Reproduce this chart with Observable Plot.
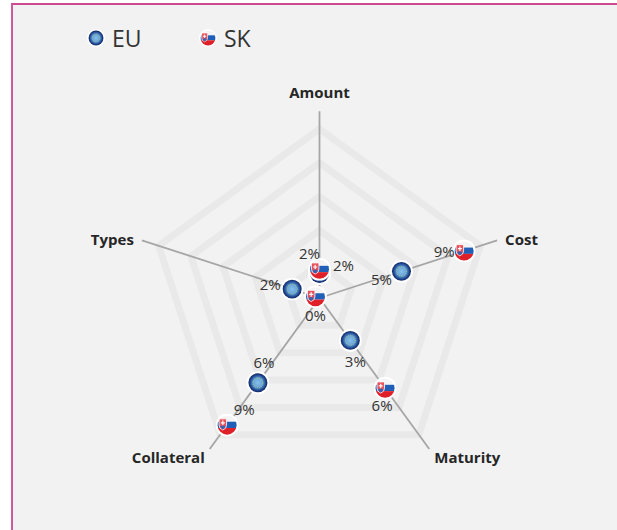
<!DOCTYPE html>
<html>
<head>
<meta charset="utf-8">
<script src="https://cdn.jsdelivr.net/npm/d3@7"></script>
<script src="https://cdn.jsdelivr.net/npm/@observablehq/plot@0.6"></script>
<style>
html,body{margin:0;padding:0;background:#fff;overflow:hidden;width:617px;height:530px}
#frame{position:absolute;left:11px;top:3px;width:604px;height:525px;border-left:2px solid #cc5a9c;border-top:2px solid #cc4c94;background:#f2f2f2;overflow:hidden;font-family:"Open Sans",sans-serif;color:#333}
#legend{position:relative;height:60px}
#legend .item{position:absolute;top:13px;display:flex;align-items:center;font-size:23px;line-height:40px;gap:7px}
#legend img{width:18px;height:18px;display:block}
svg{display:block}
</style>
</head>
<body>
<div id="frame"><div id="legend"></div><div id="chart"></div></div>
<script>
const axes = ["Amount", "Cost", "Maturity", "Collateral", "Types"];
const euValues = [1.45, 5.1, 3.1, 6.2, 1.7];
const skValues = [1.7, 9.0, 6.6, 9.3, 0.25];
const euLabels = ["2%", "5%", "3%", "6%", "2%"];
const skLabels = ["2%", "9%", "6%", "9%", "0%"];
const rings = [2, 4, 6, 8, 10];
const axisMax = 11.05;

const euIcon = "data:image/svg+xml," + encodeURIComponent(`<svg xmlns="http://www.w3.org/2000/svg" viewBox="0 0 40 40"><defs><radialGradient id="g"><stop offset="0" stop-color="#86c0ea"/><stop offset=".45" stop-color="#6aa6d8"/><stop offset=".65" stop-color="#3f75b8"/><stop offset=".85" stop-color="#1c3f88"/><stop offset="1" stop-color="#10265f"/></radialGradient></defs><circle cx="20" cy="20" r="20" fill="#fff"/><circle cx="20" cy="20" r="16.5" fill="url(#g)"/><circle cx="20" cy="20" r="8.5" fill="none" stroke="#a8c890" stroke-width="1.8" stroke-dasharray="1.5 1.7"/></svg>`);
const skIcon = "data:image/svg+xml," + encodeURIComponent(`<svg xmlns="http://www.w3.org/2000/svg" viewBox="0 0 40 40"><defs><clipPath id="c"><circle cx="20" cy="20" r="16.5"/></clipPath></defs><circle cx="20" cy="20" r="20" fill="#fff"/><g clip-path="url(#c)"><rect width="40" height="14" fill="#f4f4f6"/><rect y="14" width="40" height="11" fill="#1f5fb8"/><rect y="25" width="40" height="15" fill="#e02028"/><path d="M6 9h13v11q0 6-6.500 8.500q-6.500-2.500-6.500-8.500z" fill="#e8505a" stroke="#fff" stroke-width="1.4"/><path d="M11.500 12h2v3h2.500v2h-2.500v3h-2v-3h-2.500v-2h2.500z" fill="#fff"/><path d="M8 22q4.500-3 9 0q-1 4-4.500 5.500q-3.500-1.500-4.500-5.500z" fill="#3a62b0"/></g></svg>`);

const legendItems = [["EU", euIcon, 74], ["SK", skIcon, 186]];
for (const [name, src, left] of legendItems) {
  const item = document.createElement("div");
  item.className = "item";
  item.style.left = left + "px";
  const img = document.createElement("img");
  img.src = src;
  const label = document.createElement("span");
  label.textContent = name;
  item.append(img, label);
  document.getElementById("legend").append(item);
}

// polar → cartesian in data units
const px = (i, v) => v * Math.sin(i * 2 * Math.PI / axes.length);
const py = (i, v) => v * Math.cos(i * 2 * Math.PI / axes.length);

const ringRows = rings.flatMap(r => [0, 1, 2, 3, 4, 5].map(k => ({r, x: px(k % 5, r), y: py(k % 5, r)})));
const spokes = axes.map((name, i) => ({name, x: px(i, axisMax), y: py(i, axisMax)}));
const points = series => series.values.map((v, i) => ({x: px(i, v), y: py(i, v), label: series.labels[i]}));
const eu = points({values: euValues, labels: euLabels});
const sk = points({values: skValues, labels: skLabels});

const W = 604, H = 465, unit = 16.9, cx = 306, cy = 232.5;
const axisStyle = [
  {textAnchor: "middle", dx: 0, dy: -18.5},
  {textAnchor: "start", dx: 8, dy: 0},
  {textAnchor: "start", dx: 5, dy: 9},
  {textAnchor: "end", dx: -5, dy: 9},
  {textAnchor: "end", dx: -8, dy: 0}
];
const euOffset = [[24, -7], [-20, 9], [5, 22], [6, -20], [-22, -4]];
const skOffset = [[-10, -15], [-20, 1], [-3, 18], [17, -15], [0, 19]];

const pointMarks = (rows, icon) => [
  Plot.image(rows, {x: "x", y: "y", src: icon, width: 23, height: 23}),
];
const valueText = (rows, offsets) => rows.map((d, i) =>
  Plot.text([d], {x: "x", y: "y", text: "label", dx: offsets[i][0], dy: offsets[i][1], fontSize: 15, fill: "#333"}));

const chart = Plot.plot({
  width: W, height: H,
  margin: 0,
  style: {background: "transparent", fontFamily: '"Open Sans", sans-serif', overflow: "visible"},
  x: {axis: null, domain: [-cx / unit, (W - cx) / unit], range: [0, W]},
  y: {axis: null, domain: [cy / unit, (cy - H) / unit], range: [0, H]},
  marks: [
    Plot.line(ringRows, {x: "x", y: "y", z: "r", stroke: "#e9e9e9", strokeWidth: 7, strokeLinejoin: "miter"}),
    Plot.link(spokes, {x1: () => 0, y1: () => 0, x2: "x", y2: "y", stroke: "#a6a6a6", strokeWidth: 1.8}),
    ...spokes.map((d, i) => Plot.text([d], {x: "x", y: "y", text: "name", fontWeight: 700, fontSize: 15, fill: "#262626", ...axisStyle[i]})),
    ...pointMarks(eu, euIcon),
    ...pointMarks(sk, skIcon),
    ...valueText(eu, euOffset),
    ...valueText(sk, skOffset)
  ]
});
document.getElementById("chart").append(chart);
</script>
</body>
</html>
